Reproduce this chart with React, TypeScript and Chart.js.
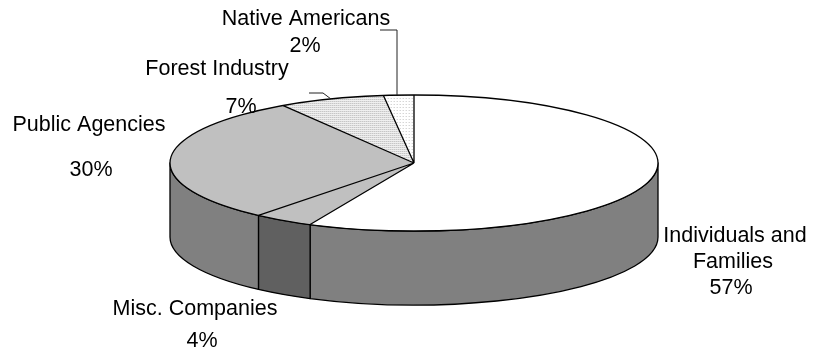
import React, { useEffect, useRef } from "react";
import { Chart, registerables } from "chart.js";

Chart.register(...registerables);

// ---- data ----
const categories = [
  "Individuals and Families",
  "Misc. Companies",
  "Public Agencies",
  "Forest Industry",
  "Native Americans",
];
const shares = [57, 4, 30, 7, 2];
// how each category name is broken into lines in the label
const categoryLines = [
  ["Individuals and", "Families"],
  ["Misc. Companies"],
  ["Public Agencies"],
  ["Forest Industry"],
  ["Native Americans"],
];

// ---- styling / layout (not data) ----
const topColors = ["#ffffff", "#c0c0c0", "#c0c0c0", "pattern:forest", "pattern:native"];
const sideColors = ["#808080", "#606060", "#808080", "#a0a0a0", "#c0c0c0"];
const GEOM = { cx: 414, cy: 163, rx: 244, ry: 68, depth: 74 };
// [centerX, baselineY] for each text line (name lines, then percent line)
const LABEL_POS: number[][][] = [
  [[735, 242], [733, 268], [731, 294]],
  [[195, 315], [202, 347]],
  [[89, 131], [91, 176]],
  [[217, 75], [241, 113]],
  [[306, 25], [305, 52]],
];
const LEADERS: number[][][] = [
  [[309, 93], [323, 93], [331, 99]],
  [[380, 30], [397, 30], [397, 95]],
];
const FONT = '21.5px "Liberation Sans", Arial, sans-serif';

function makePattern(dot: string, bg: string, step: number): CanvasPattern | string {
  const c = document.createElement("canvas");
  c.width = step;
  c.height = step;
  const g = c.getContext("2d");
  if (!g) return bg;
  g.fillStyle = bg;
  g.fillRect(0, 0, step, step);
  g.fillStyle = dot;
  g.fillRect(0, 0, 1, 1);
  const p = g.createPattern(c, "repeat");
  return p || bg;
}

const pie3d = {
  id: "pie3d",
  beforeDatasetsDraw(chart: any) {
    const ctx: CanvasRenderingContext2D = chart.ctx;
    const arcs = chart.getDatasetMeta(0).data;
    const { cx, cy, rx, ry, depth } = GEOM;
    ctx.save();
    ctx.lineWidth = 1.3;
    ctx.strokeStyle = "#000";
    ctx.lineJoin = "round";
    arcs.forEach((arc: any, i: number) => {
      const { startAngle, endAngle } = arc.getProps(["startAngle", "endAngle"], true);
      const a1 = Math.max(startAngle, 0);
      const a2 = Math.min(endAngle, Math.PI);
      if (a2 <= a1) return;
      ctx.beginPath();
      ctx.ellipse(cx, cy, rx, ry, 0, a1, a2, false);
      ctx.lineTo(cx + rx * Math.cos(a2), cy + ry * Math.sin(a2) + depth);
      ctx.ellipse(cx, cy + depth, rx, ry, 0, a2, a1, true);
      ctx.closePath();
      ctx.fillStyle = sideColors[i];
      ctx.fill();
      ctx.stroke();
    });
    ctx.restore();

    const a0 = arcs[0];
    const r = a0.outerRadius;
    const sx = rx / r;
    const sy = ry / r;
    const bg = chart.data.datasets[0].backgroundColor as any[];
    bg.forEach((p: any) => {
      if (p && typeof p === "object" && p.setTransform) {
        p.setTransform(new DOMMatrix([1 / sx, 0, 0, 1 / sy, 0, 0]));
      }
    });
    ctx.save();
    ctx.translate(cx, cy);
    ctx.scale(sx, sy);
    ctx.translate(-a0.x, -a0.y);
  },
  afterDatasetsDraw(chart: any) {
    const ctx: CanvasRenderingContext2D = chart.ctx;
    ctx.restore();
    const arcs = chart.getDatasetMeta(0).data;
    const { cx, cy, rx, ry } = GEOM;
    ctx.save();
    ctx.lineWidth = 1.3;
    ctx.strokeStyle = "#000";
    ctx.beginPath();
    ctx.ellipse(cx, cy, rx, ry, 0, 0, Math.PI * 2);
    ctx.stroke();
    ctx.beginPath();
    arcs.forEach((arc: any) => {
      const { startAngle } = arc.getProps(["startAngle"], true);
      ctx.moveTo(cx, cy);
      ctx.lineTo(cx + rx * Math.cos(startAngle), cy + ry * Math.sin(startAngle));
    });
    ctx.stroke();

    // leader lines
    ctx.lineWidth = 1;
    ctx.strokeStyle = "#222";
    LEADERS.forEach((pts) => {
      ctx.beginPath();
      pts.forEach(([x, y], k) => (k === 0 ? ctx.moveTo(x, y) : ctx.lineTo(x, y)));
      ctx.stroke();
    });

    // labels
    ctx.fillStyle = "#000";
    ctx.font = FONT;
    ctx.textAlign = "center";
    ctx.textBaseline = "alphabetic";
    const data = chart.data.datasets[0].data as number[];
    const total = data.reduce((s, v) => s + v, 0);
    chart.data.labels.forEach((_: string, i: number) => {
      const lines = [...categoryLines[i], `${Math.round((data[i] / total) * 100)}%`];
      lines.forEach((t, k) => {
        const [x, y] = LABEL_POS[i][k];
        ctx.fillText(t, x, y);
      });
    });
    ctx.restore();
  },
};

export default function App() {
  const ref = useRef<HTMLCanvasElement | null>(null);
  useEffect(() => {
    document.body.style.margin = "0";
    const canvas = ref.current;
    if (!canvas) return;
    const patterns: Record<string, any> = {
      "pattern:forest": makePattern("#b4b4b4", "#efefef", 2),
      "pattern:native": makePattern("#c4c4c4", "#ffffff", 3),
    };
    const bg = topColors.map((c) => patterns[c] || c);
    const chart = new Chart(canvas, {
      type: "pie",
      data: {
        labels: categories,
        datasets: [
          {
            data: shares,
            backgroundColor: bg,
            borderWidth: 0,
            clip: false as any,
          },
        ],
      },
      options: {
        responsive: false,
        animation: false,
        events: [],
        layout: { padding: 0 },
        plugins: {
          legend: { display: false },
          tooltip: { enabled: false },
        },
      },
      plugins: [pie3d as any],
    });
    return () => chart.destroy();
  }, []);
  return (
    <div style={{ width: 813, height: 354, background: "#fff" }}>
      <canvas ref={ref} width={813} height={354} style={{ display: "block" }} />
    </div>
  );
}
